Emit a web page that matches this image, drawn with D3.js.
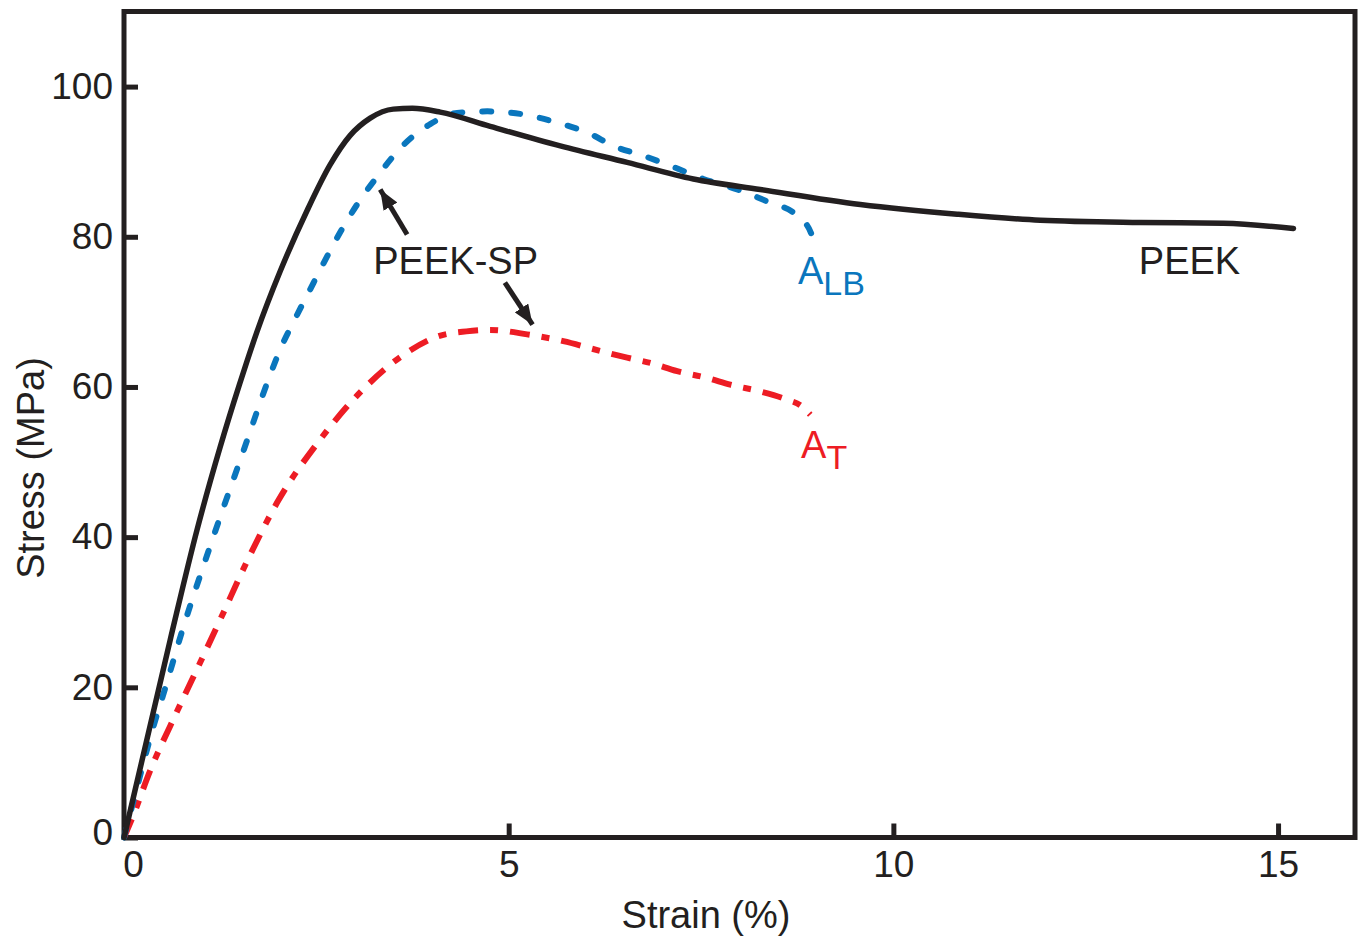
<!DOCTYPE html>
<html>
<head>
<meta charset="utf-8">
<script src="https://cdn.jsdelivr.net/npm/d3@7"></script>
<style>
  body { margin: 0; background: #fff; }
  svg text { font-family: "Liberation Sans", Arial, Helvetica, sans-serif; fill: #231f20; }
</style>
</head>
<body>
<svg id="chart" width="1363" height="942"></svg>
<script>
// PEEK (solid black)
const peekStrain = [0, 0.6, 0.95, 1.25, 1.5, 1.73, 2.03, 2.38, 2.68, 2.94, 3.2, 3.5, 3.75, 4.11, 4.76, 5.67, 6.54, 7.4, 8.27, 9.57, 10.83, 11.91, 13.2, 14.29, 15.2];
const peekStress = [0, 26.3, 41, 52, 60.3, 67.4, 75.4, 83.5, 89.6, 93.5, 95.8, 97, 97.1, 96.6, 94.7, 92.1, 89.9, 87.7, 86.3, 84.3, 83, 82.2, 81.9, 81.8, 81.1];

// A_LB (blue dashed)
const albStrain = [0, 0.17, 0.38, 0.53, 0.75, 1.16, 1.57, 1.87, 2.03, 2.22, 2.42, 2.55, 2.81, 3.03, 3.29, 3.63, 3.98, 4.33, 4.72, 5.19, 5.63, 6.06, 6.36, 6.75, 7.14, 7.53, 7.97, 8.36, 8.75, 8.93, 8.96];
const albStress = [0, 6.7, 14.7, 19.7, 27.3, 40, 52, 60.8, 65, 69, 73, 75.6, 80.6, 84.3, 88, 92.2, 95, 96.5, 96.7, 96.3, 95.2, 93.7, 92.1, 90.8, 89.3, 87.7, 86.3, 84.7, 82.8, 80.5, 78.8];

// A_T (red dashed)
const atStrain = [0, 0.1, 0.34, 0.69, 0.99, 1.25, 1.6, 1.99, 2.55, 3.11, 3.68, 4.07, 4.45, 4.76, 5.24, 5.71, 6.19, 6.54, 6.84, 7.19, 7.58, 7.88, 8.27, 8.62, 8.8, 8.92];
const atStress = [0, 2.4, 8.9, 16.8, 23.3, 29, 36.8, 44.6, 53, 59.7, 64.6, 66.7, 67.4, 67.6, 67, 66.1, 64.8, 63.9, 63.2, 62.1, 61.2, 60.3, 59.4, 58.3, 57.5, 56.3];

const xTicks = [0, 5, 10, 15];
const yTicks = [0, 20, 40, 60, 80, 100];

const ink = "#231f20";
const blue = "#0a76bd";
const red = "#ed1c24";

const svg = d3.select("#chart");

const x = d3.scaleLinear().domain([0, 16]).range([124, 1355]);
const y = d3.scaleLinear().domain([0, 110]).range([837.5, 11.5]);

// frame
svg.append("rect")
  .attr("x", x(0)).attr("y", y(110))
  .attr("width", x(16) - x(0)).attr("height", y(0) - y(110))
  .attr("fill", "none").attr("stroke", ink).attr("stroke-width", 5);

// axes, ticks pointing inward
const xAxis = svg.append("g")
  .attr("transform", `translate(0,${y(0)})`)
  .call(d3.axisBottom(x).tickValues(xTicks).tickSizeInner(-14).tickSizeOuter(0).tickPadding(13));
const yAxis = svg.append("g")
  .attr("transform", `translate(${x(0)},0)`)
  .call(d3.axisLeft(y).tickValues(yTicks).tickSizeInner(-14).tickSizeOuter(0).tickPadding(11));

[xAxis, yAxis].forEach(g => {
  g.select(".domain").remove();
  g.selectAll(".tick line").attr("stroke", ink).attr("stroke-width", 5);
  g.selectAll(".tick text").style("font-size", "37px").attr("fill", ink);
});
xAxis.selectAll(".tick text").filter(d => d === 0).attr("dx", 9);
yAxis.selectAll(".tick text").filter(d => d === 0).attr("dy", "0.2em");

// axis titles
svg.append("text")
  .attr("x", 706).attr("y", 928)
  .attr("text-anchor", "middle")
  .style("font-size", "38px")
  .text("Strain (%)");
svg.append("text")
  .attr("transform", "translate(44,468) rotate(-90)")
  .attr("text-anchor", "middle")
  .style("font-size", "38px")
  .text("Stress (MPa)");

// curves
const line = d3.line()
  .x(d => x(d[0]))
  .y(d => y(d[1]))
  .curve(d3.curveMonotoneX);

const series = [
  { xs: atStrain, ys: atStress, color: red, width: 6, dash: "20,12,8,12", cap: "butt" },
  { xs: albStrain, ys: albStress, color: blue, width: 6, dash: "9,20", cap: "round" },
  { xs: peekStrain, ys: peekStress, color: ink, width: 5.5, dash: null, cap: "round" }
];

svg.append("g").selectAll("path")
  .data(series)
  .join("path")
  .attr("d", s => line(d3.zip(s.xs, s.ys)))
  .attr("fill", "none")
  .attr("stroke", s => s.color)
  .attr("stroke-width", s => s.width)
  .attr("stroke-linecap", s => s.cap)
  .attr("stroke-linejoin", "round")
  .attr("stroke-dasharray", s => s.dash);

// arrow head marker
svg.append("defs").append("marker")
  .attr("id", "head")
  .attr("markerUnits", "userSpaceOnUse")
  .attr("viewBox", "0 0 20 16")
  .attr("refX", 20).attr("refY", 8)
  .attr("markerWidth", 20).attr("markerHeight", 16)
  .attr("orient", "auto")
  .append("path")
  .attr("d", "M0,0 L20,8 L0,16 Z")
  .attr("fill", ink);

// arrows for PEEK-SP (tail -> tip, in data units)
const arrows = [
  { from: [3.68, 80.3], to: [3.33, 86.3] },
  { from: [4.95, 73.9], to: [5.31, 68.3] }
];
svg.append("g").selectAll("line")
  .data(arrows)
  .join("line")
  .attr("x1", d => x(d.from[0])).attr("y1", d => y(d.from[1]))
  .attr("x2", d => x(d.to[0])).attr("y2", d => y(d.to[1]))
  .attr("stroke", ink).attr("stroke-width", 5)
  .attr("marker-end", "url(#head)");

// labels
const labels = [
  { text: "PEEK-SP", sub: "", at: [3.24, 75], color: ink },
  { text: "PEEK", sub: "", at: [13.19, 75], color: ink },
  { text: "A", sub: "LB", at: [8.76, 73.7], color: blue },
  { text: "A", sub: "T", at: [8.8, 50.6], color: red }
];
const lab = svg.append("g").selectAll("text")
  .data(labels)
  .join("text")
  .attr("x", d => x(d.at[0])).attr("y", d => y(d.at[1]))
  .style("font-size", "38px")
  .style("fill", d => d.color);
lab.append("tspan").text(d => d.text);
lab.filter(d => d.sub).append("tspan")
  .attr("dy", 11)
  .style("font-size", "34px")
  .text(d => d.sub);
</script>
</body>
</html>
